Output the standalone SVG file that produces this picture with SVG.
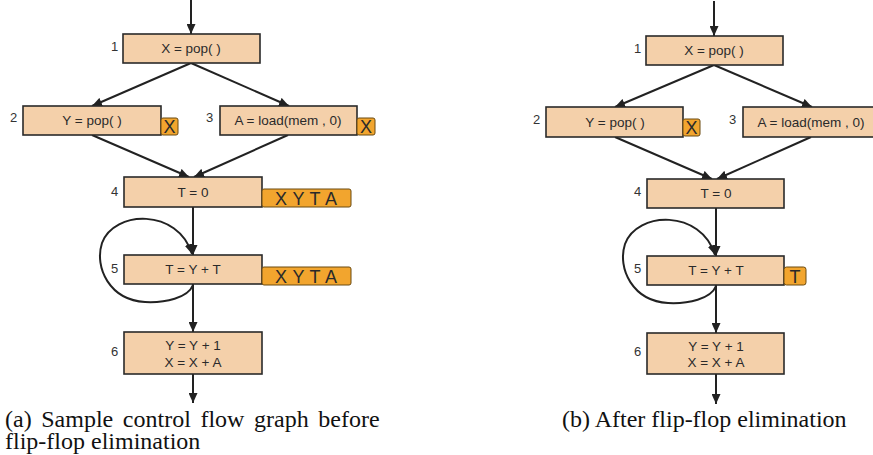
<svg xmlns="http://www.w3.org/2000/svg" width="873" height="455" viewBox="0 0 873 455">
<style>
.box{fill:#F4D0AA;stroke:#2a2a2a;stroke-width:1.6}
.badge{fill:#F2A52E;stroke:#6b4a10;stroke-width:1}
.t{font-family:"Liberation Sans",Arial,sans-serif;font-size:13.5px;fill:#2a2a2a;text-anchor:middle}
.n{font-family:"Liberation Sans",Arial,sans-serif;font-size:13px;fill:#333}
.b{font-family:"Liberation Sans",Arial,sans-serif;font-size:18px;fill:#2a2a2a;text-anchor:middle}
.c{font-family:"Liberation Serif","Times New Roman",serif;font-size:24px;fill:#111}
.e{fill:none;stroke:#222;stroke-width:2;marker-end:url(#ah)}
</style>
<defs>
<marker id="ah" markerUnits="userSpaceOnUse" markerWidth="10" markerHeight="9" viewBox="0 0 10 9" refX="10" refY="4.5" orient="auto">
<path d="M0,0 L10,4.5 L0,9 z" fill="#222"/>
</marker>
</defs>
<g id="graph-a">
<g id="connectors-a">
<path class="e" d="M191,0 L191,34"/>
<path class="e" d="M191,63 L92,106"/>
<path class="e" d="M191,63 L289,106"/>
<path class="e" d="M92,135 L189,177"/>
<path class="e" d="M288,135 L194,177"/>
<path class="e" d="M193,207 L193,255"/>
<path class="e" d="M193,284 L193,332"/>
<path class="e" d="M193,374 L193,403"/>
<path class="e" d="M193,285 C188,298 165,303 145,302 C110,300 94,268 102,243 C114,210 178,208 192,254"/>
</g>
<g id="a-n1"><rect class="box" x="123" y="34" width="137" height="29"/><text class="t" x="191" y="53">X = pop( )</text><text class="n" x="111" y="51">1</text></g>
<g id="a-n2"><rect class="box" x="23" y="106" width="138" height="29"/><text class="t" x="92" y="125">Y = pop( )</text><text class="n" x="10" y="122">2</text>
<rect class="badge" x="161" y="118" width="17" height="17" rx="2"/><text class="b" x="169.5" y="133">X</text></g>
<g id="a-n3"><rect class="box" x="220" y="106" width="137" height="29"/><text class="t" x="288" y="125">A = load(mem , 0)</text><text class="n" x="206" y="122">3</text>
<rect class="badge" x="357" y="118" width="18" height="17" rx="2"/><text class="b" x="366" y="133">X</text></g>
<g id="a-n4"><rect class="box" x="124" y="177" width="138" height="30"/><text class="t" x="193" y="197">T = 0</text><text class="n" x="111" y="196">4</text>
<rect class="badge" x="262" y="189" width="89" height="18" rx="2"/><text class="b" x="306" y="205" textLength="62" lengthAdjust="spacing">X Y T A</text></g>
<g id="a-n5"><rect class="box" x="124" y="255" width="138" height="29"/><text class="t" x="193" y="274">T = Y + T</text><text class="n" x="111" y="273">5</text>
<rect class="badge" x="262" y="267" width="89" height="18" rx="2"/><text class="b" x="306" y="283" textLength="62" lengthAdjust="spacing">X Y T A</text></g>
<g id="a-n6"><rect class="box" x="124" y="332" width="138" height="42"/><text class="t" x="193" y="350">Y = Y + 1</text><text class="t" x="193" y="367">X = X + A</text><text class="n" x="111" y="356">6</text></g>
</g>
<g id="graph-b" transform="translate(523,1)">
<g id="connectors-b">
<path class="e" d="M191,0 L191,35"/>
<path class="e" d="M191,64 L92,106"/>
<path class="e" d="M191,64 L289,106"/>
<path class="e" d="M92,136 L189,178"/>
<path class="e" d="M288,136 L194,178"/>
<path class="e" d="M193,207 L193,255"/>
<path class="e" d="M193,284 L193,332"/>
<path class="e" d="M193,373 L193,403"/>
<path class="e" d="M193,285 C188,298 165,303 145,302 C110,300 94,268 102,243 C114,210 178,208 192,254"/>
</g>
<g id="b-n1"><rect class="box" x="123" y="35" width="137" height="29"/><text class="t" x="191" y="54">X = pop( )</text><text class="n" x="111" y="52">1</text></g>
<g id="b-n2"><rect class="box" x="23" y="106" width="137" height="30"/><text class="t" x="92" y="126">Y = pop( )</text><text class="n" x="10" y="123">2</text>
<rect class="badge" x="160" y="118" width="17" height="17" rx="2"/><text class="b" x="168.5" y="133">X</text></g>
<g id="b-n3"><rect class="box" x="220" y="106" width="137" height="30"/><text class="t" x="288" y="126">A = load(mem , 0)</text><text class="n" x="206" y="123">3</text></g>
<g id="b-n4"><rect class="box" x="124" y="178" width="137" height="29"/><text class="t" x="193" y="197">T = 0</text><text class="n" x="111" y="195">4</text></g>
<g id="b-n5"><rect class="box" x="124" y="255" width="137" height="29"/><text class="t" x="193" y="274">T = Y + T</text><text class="n" x="111" y="272">5</text>
<rect class="badge" x="261" y="266" width="22" height="18" rx="2.5"/><text class="b" x="272" y="282">T</text></g>
<g id="b-n6"><rect class="box" x="124" y="332" width="137" height="41"/><text class="t" x="193" y="350">Y = Y + 1</text><text class="t" x="193" y="366">X = X + A</text><text class="n" x="111" y="355">6</text></g>
</g>
<g id="captions">
<text class="c" x="5" y="427" word-spacing="3.6">(a) Sample control flow graph before</text>
<text class="c" x="5" y="449">flip-flop elimination</text>
<text class="c" x="562" y="427">(b) After flip-flop elimination</text>
</g>
</svg>
